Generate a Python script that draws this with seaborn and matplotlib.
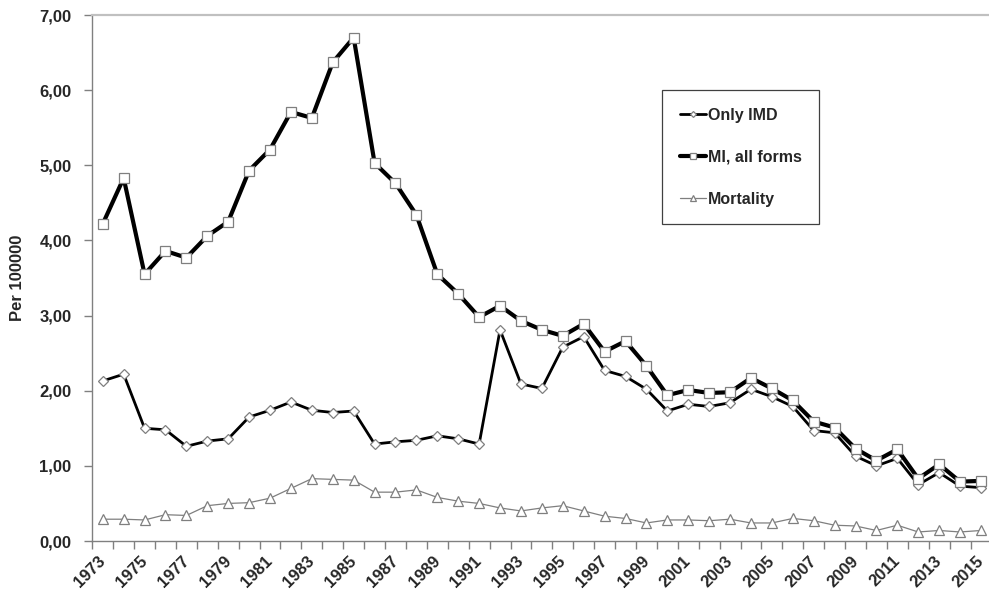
import matplotlib
matplotlib.use("Agg")
import matplotlib.pyplot as plt
import matplotlib.transforms as mtransforms
import seaborn as sns
import pandas as pd
import numpy as np
from matplotlib.ticker import FixedLocator, FuncFormatter

years = list(range(1973, 2016))

only_imd = [2.13, 2.22, 1.50, 1.48, 1.26, 1.33, 1.36, 1.65, 1.74, 1.85,
            1.74, 1.71, 1.73, 1.29, 1.32, 1.34, 1.40, 1.36, 1.29, 2.81,
            2.09, 2.03, 2.58, 2.72, 2.27, 2.19, 2.02, 1.73, 1.82, 1.79,
            1.84, 2.02, 1.92, 1.79, 1.47, 1.44, 1.13, 1.00, 1.10, 0.75,
            0.91, 0.73, 0.71]

mi_all = [4.22, 4.83, 3.55, 3.86, 3.77, 4.06, 4.25, 4.93, 5.21, 5.71,
          5.63, 6.37, 6.70, 5.03, 4.76, 4.34, 3.55, 3.29, 2.98, 3.13,
          2.93, 2.81, 2.73, 2.89, 2.52, 2.66, 2.33, 1.94, 2.01, 1.97,
          1.98, 2.17, 2.03, 1.87, 1.59, 1.51, 1.23, 1.07, 1.22, 0.83,
          1.02, 0.79, 0.80]

mortality = [0.29, 0.29, 0.28, 0.35, 0.34, 0.47, 0.50, 0.51, 0.57, 0.70,
             0.83, 0.82, 0.81, 0.65, 0.65, 0.68, 0.58, 0.53, 0.50, 0.44,
             0.40, 0.44, 0.47, 0.40, 0.33, 0.30, 0.24, 0.28, 0.28, 0.27,
             0.29, 0.24, 0.24, 0.30, 0.27, 0.21, 0.20, 0.14, 0.21, 0.12,
             0.14, 0.12, 0.14]

labels = ["Only IMD", "MI, all forms", "Mortality"]
y_ticks = [0, 1, 2, 3, 4, 5, 6, 7]

sns.set_style("white")
plt.rcParams["font.family"] = ["Liberation Sans", "DejaVu Sans"]
plt.rcParams["font.weight"] = "bold"

fig = plt.figure(figsize=(9.89, 5.98), dpi=100)
ax = fig.add_axes([92.3 / 989, 1 - 541 / 598, (989 - 92.3) / 989, (541 - 15) / 598])

df = pd.DataFrame({"year": years, "imd": only_imd, "mi": mi_all, "mort": mortality})

edge = "#7f7f7f"
sns.lineplot(data=df, x="year", y="imd", ax=ax, color="black", linewidth=2.0,
             marker="D", markersize=5.0, markerfacecolor="white",
             markeredgecolor=edge, markeredgewidth=0.9, label=labels[0], zorder=3)
sns.lineplot(data=df, x="year", y="mi", ax=ax, color="black", linewidth=3.0,
             marker="s", markersize=6.8, markerfacecolor="white",
             markeredgecolor=edge, markeredgewidth=0.9, label=labels[1], zorder=4)
sns.lineplot(data=df, x="year", y="mort", ax=ax, color=edge, linewidth=0.9,
             marker="^", markersize=7.2, markerfacecolor="white",
             markeredgecolor=edge, markeredgewidth=0.9, label=labels[2], zorder=5)

spacing = 20.91
ax.set_xlim(1972.5, 1972.5 + (989 - 92.3) / spacing)
ax.set_ylim(0, 7)

ax.xaxis.set_major_locator(FixedLocator(years[::2]))
ax.xaxis.set_minor_locator(FixedLocator([y - 0.5 for y in years] + [years[-1] + 0.5]))
ax.tick_params(axis="x", which="major", length=0, pad=9)
ax.tick_params(axis="x", which="minor", length=6, width=1, color="#808080", direction="out", bottom=True)
ax.set_xticklabels([str(y) for y in years[::2]], rotation=45, ha="right", va="top",
                   rotation_mode="anchor", fontsize=12, fontweight="bold")
shift = mtransforms.ScaledTranslation(-0.05, 0, fig.dpi_scale_trans)
for t in ax.get_xticklabels():
    t.set_transform(t.get_transform() + shift)

ax.yaxis.set_major_locator(FixedLocator(y_ticks))
ax.yaxis.set_major_formatter(FuncFormatter(lambda v, p: f"{v:.2f}".replace(".", ",")))
ax.tick_params(axis="y", which="major", length=6, width=1, color="#808080", direction="out",
               left=True, pad=9, labelsize=12)
for t in ax.get_yticklabels():
    t.set_fontweight("bold")

ax.set_xlabel("")
ax.set_ylabel("Per 100000", fontsize=12, fontweight="bold", labelpad=10)

for s in ["left", "bottom"]:
    ax.spines[s].set_color("#808080")
    ax.spines[s].set_linewidth(1.0)
ax.spines["top"].set_color("#c0c0c0")
ax.spines["top"].set_linewidth(1.6)
ax.spines["right"].set_visible(False)

handles, lbls = ax.get_legend_handles_labels()
leg = ax.legend(handles, lbls, loc="upper left",
                bbox_to_anchor=(662 / 989, 1 - 90 / 598), bbox_transform=fig.transFigure,
                frameon=True, fancybox=False, edgecolor="#404040", framealpha=1,
                markerscale=0.6, handlelength=1.65, handletextpad=0.1,
                labelspacing=1.7, borderpad=1.1, borderaxespad=0,
                prop={"weight": "bold", "size": 11.5, "family": ["Liberation Sans", "DejaVu Sans"]})
leg.get_frame().set_linewidth(0.9)

fig.savefig("out.png", dpi=100)
